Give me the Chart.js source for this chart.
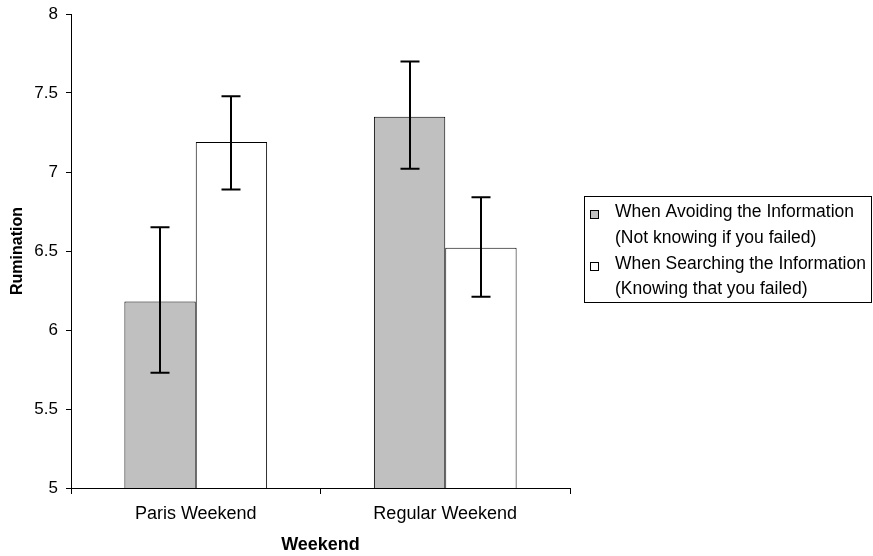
<!DOCTYPE html>
<html>
<head>
<meta charset="utf-8">
<script src="https://cdn.jsdelivr.net/npm/chart.js@4/dist/chart.umd.min.js"></script>
<style>
  html, body { margin: 0; padding: 0; background: #fff; }
  #wrap { width: 873px; height: 556px; position: relative; }
</style>
</head>
<body>
<div id="wrap"><canvas id="c" width="873" height="556"></canvas></div>
<script>
const categories = ['Paris Weekend', 'Regular Weekend'];
const seriesNames = [
  ['When Avoiding the Information', '(Not knowing if you failed)'],
  ['When Searching the Information', '(Knowing that you failed)']
];
const avoidingValues = [6.18, 7.35];
const searchingValues = [7.19, 6.52];
const avoidingLow = [5.73, 7.02];
const avoidingHigh = [6.65, 7.70];
const searchingLow = [6.89, 6.21];
const searchingHigh = [7.48, 6.84];
const yTickLabels = ['5', '5.5', '6', '6.5', '7', '7.5', '8'];
const yMin = 5, yMax = 8, yStep = 0.5;

const FONT = '"Liberation Sans", Arial, sans-serif';
const errLows = [avoidingLow, searchingLow];
const errHighs = [avoidingHigh, searchingHigh];
const fills = ['#c0c0c0', '#ffffff'];

const errorBarPlugin = {
  id: 'errorBars',
  afterDatasetsDraw(chart) {
    const ctx = chart.ctx;
    const yScale = chart.scales.y;
    ctx.save();
    ctx.strokeStyle = '#000';
    ctx.lineWidth = 2;
    chart.data.datasets.forEach((ds, di) => {
      const meta = chart.getDatasetMeta(di);
      meta.data.forEach((bar, i) => {
        const x = Math.round(bar.x);
        const yLo = yScale.getPixelForValue(errLows[di][i]);
        const yHi = yScale.getPixelForValue(errHighs[di][i]);
        const cap = 9.5;
        ctx.beginPath();
        ctx.moveTo(x, yLo); ctx.lineTo(x, yHi);
        ctx.moveTo(x - cap, yLo); ctx.lineTo(x + cap, yLo);
        ctx.moveTo(x - cap, yHi); ctx.lineTo(x + cap, yHi);
        ctx.stroke();
      });
    });
    ctx.restore();
  }
};

const legendPlugin = {
  id: 'customLegend',
  afterDraw(chart) {
    const ctx = chart.ctx;
    ctx.save();
    ctx.strokeStyle = '#000';
    ctx.lineWidth = 1;
    ctx.strokeRect(584.5, 196.5, 287, 106);
    ctx.font = '17.5px ' + FONT;
    ctx.fillStyle = '#000';
    ctx.textBaseline = 'alphabetic';
    ctx.textAlign = 'left';
    const baselines = [[217, 243], [269, 294]];
    const swY = [210.5, 262.5];
    seriesNames.forEach((lines, si) => {
      ctx.fillStyle = fills[si];
      ctx.fillRect(590.5, swY[si], 8, 8);
      ctx.strokeRect(590.5, swY[si], 8, 8);
      ctx.fillStyle = '#000';
      lines.forEach((t, li) => ctx.fillText(t, 615, baselines[si][li]));
    });
    ctx.restore();
  }
};

new Chart(document.getElementById('c'), {
  type: 'bar',
  data: {
    labels: categories,
    datasets: [
      { label: seriesNames[0].join(' '), data: avoidingValues, backgroundColor: fills[0], borderColor: '#000', borderWidth: 1,
        categoryPercentage: 0.572, barPercentage: 1.0 },
      { label: seriesNames[1].join(' '), data: searchingValues, backgroundColor: fills[1], borderColor: '#000', borderWidth: 1,
        categoryPercentage: 0.572, barPercentage: 1.0 }
    ]
  },
  options: {
    responsive: false,
    animation: false,
    devicePixelRatio: 1,
    layout: { padding: { left: 0, right: 303, top: 14, bottom: 0 } },
    plugins: { legend: { display: false }, tooltip: { enabled: false } },
    scales: {
      x: {
        grid: { drawOnChartArea: false, drawTicks: true, tickLength: 6, color: '#000', offset: true },
        border: { color: '#000', width: 1 },
        ticks: { color: '#000', font: { family: FONT, size: 18 }, padding: 9 },
        title: { display: true, text: 'Weekend', color: '#000', font: { family: FONT, size: 18, weight: 'bold' }, padding: { top: 0, bottom: 0 } },
        afterFit(scale) { scale.height = 68; scale.paddingLeft = 0; scale.paddingRight = 0; }
      },
      y: {
        min: yMin, max: yMax,
        grid: { drawOnChartArea: false, drawTicks: true, tickLength: 5, color: '#000' },
        border: { color: '#000', width: 1 },
        ticks: {
          stepSize: yStep, color: '#000', font: { family: FONT, size: 17 }, padding: 8,
          callback: (v) => { const i = Math.round((v - yMin) / yStep); return yTickLabels[i]; }
        },
        title: { display: true, text: 'Rumination', color: '#000', font: { family: FONT, size: 16, weight: 'bold' }, padding: { top: 8, bottom: 0 } },
        afterFit(scale) { scale.width = 71; scale.paddingTop = 0; scale.paddingBottom = 0; }
      }
    }
  },
  plugins: [errorBarPlugin, legendPlugin]
});
</script>
</body>
</html>
